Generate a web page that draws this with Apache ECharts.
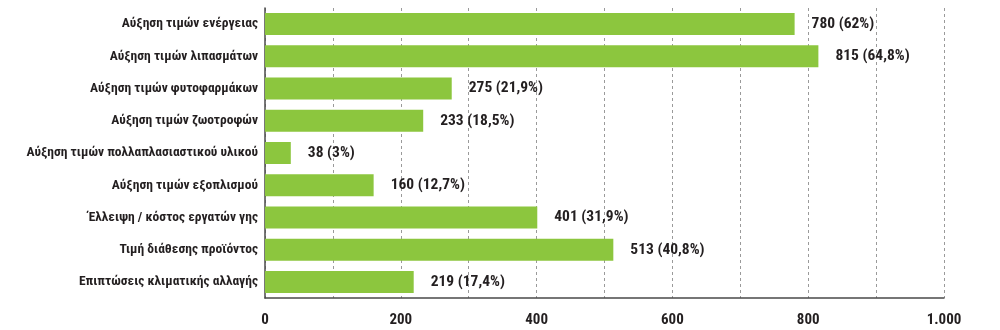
<!DOCTYPE html>
<html>
<head>
<meta charset="utf-8">
<script src="https://cdn.jsdelivr.net/npm/echarts@6/dist/echarts.min.js"></script>
<style>html,body{margin:0;padding:0;background:#fff;}#c{width:1000px;height:330px;}</style>
</head>
<body>
<div id="c"></div>
<script>
const categories = [
  "Αύξηση τιμών ενέργειας",
  "Αύξηση τιμών λιπασμάτων",
  "Αύξηση τιμών φυτοφαρμάκων",
  "Αύξηση τιμών ζωοτροφών",
  "Αύξηση τιμών πολλαπλασιαστικού υλικού",
  "Αύξηση τιμών εξοπλισμού",
  "Έλλειψη / κόστος εργατών γης",
  "Τιμή διάθεσης προϊόντος",
  "Επιπτώσεις κλιματικής αλλαγής"
];
const values = [780, 815, 275, 233, 38, 160, 401, 513, 219];
const percents = ["62%", "64,8%", "21,9%", "18,5%", "3%", "12,7%", "31,9%", "40,8%", "17,4%"];
const tickLabels = {0: "0", 200: "200", 400: "400", 600: "600", 800: "800", 1000: "1.000"};

const FONT = '"Roboto Condensed", "Open Sans Condensed", sans-serif';
const chart = echarts.init(document.getElementById('c'), null, {renderer: 'canvas'});
chart.setOption({
  animation: false,
  grid: {left: 265, right: 56, top: 8, bottom: 32, containLabel: false, outerBoundsMode: 'none'},
  xAxis: {
    type: 'value', min: 0, max: 1000, interval: 100,
    axisLine: {show: true, lineStyle: {color: '#4a4a4a', width: 1.5}},
    axisTick: {show: false},
    splitLine: {show: true, lineStyle: {color: '#9a9a9a', type: [3, 3], width: 1}},
    axisLabel: {
      margin: 15, color: '#231f20', fontFamily: FONT, fontWeight: 'bold', fontSize: 15,
      formatter: v => (tickLabels[v] !== undefined ? tickLabels[v] : '')
    }
  },
  yAxis: {
    type: 'category', data: categories, inverse: true,
    axisLine: {show: true, lineStyle: {color: '#4a4a4a', width: 1.5}},
    axisTick: {show: false},
    axisLabel: {margin: 7, color: '#231f20', fontFamily: FONT, fontWeight: 'bold', fontSize: 13.5}
  },
  series: [{
    type: 'bar', data: values, barWidth: 22,
    itemStyle: {color: '#8cc63e'},
    label: {
      show: true, position: 'right', distance: 17,
      color: '#231f20', fontFamily: FONT, fontWeight: 'bold', fontSize: 15.5,
      formatter: p => p.value + ' (' + percents[p.dataIndex] + ')'
    }
  }]
});
</script>
</body>
</html>
